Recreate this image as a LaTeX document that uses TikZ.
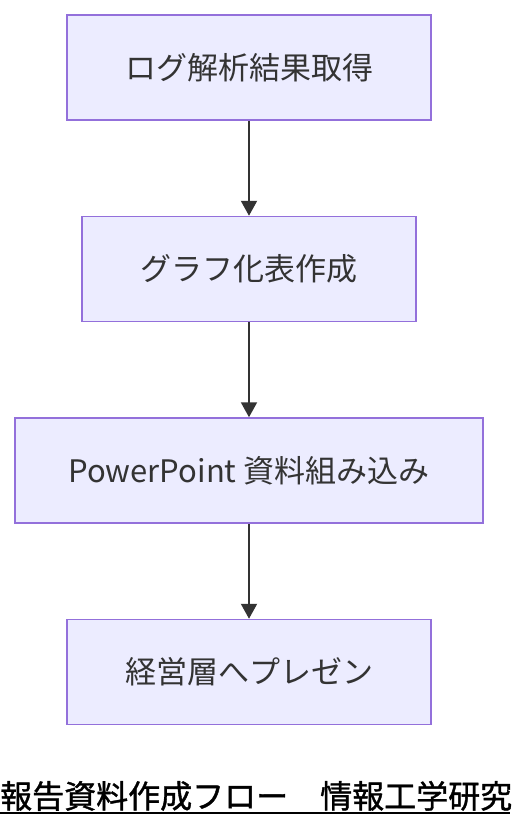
\documentclass[tikz,border=0pt]{standalone}
\usepackage{fontspec}
\setmainfont{Noto Sans CJK JP}
\newfontfamily\titlefont[FakeBold=1.2]{Noto Sans CJK JP}
\usetikzlibrary{positioning, arrows.meta}
\definecolor{boxfill}{HTML}{ECECFF}
\definecolor{boxline}{HTML}{9370DB}
\definecolor{ink}{HTML}{333333}

\begin{document}
\begin{tikzpicture}[x=1pt,y=-1pt,inner sep=0pt,node distance=95pt,>={Triangle[width=16pt,length=15pt]}]
\tikzset{stepbox/.style={draw=boxline,fill=boxfill,line width=1.5pt,minimum height=105pt,text=ink,font=\fontsize{31}{36}\selectfont},
         flow/.style={->,draw=ink,line width=2pt}}
\useasboundingbox (0,0) rectangle (514,828);
\node [stepbox,minimum width=364pt] at (249,67.5) (S1) {ログ解析結果取得};
\node [stepbox,minimum width=334pt] [below=of S1] (S2) {グラフ化表作成};
\node [stepbox,minimum width=468pt] [below=of S2] (S3) {PowerPoint 資料組み込み};
\node [stepbox,minimum width=364pt] [below=of S3] (S4) {経営層へプレゼン};
\draw [flow] (S1) -- (S2);
\draw [flow] (S2) -- (S3);
\draw [flow] (S3) -- (S4);
% title
\node [anchor=base west,font=\titlefont\fontsize{32}{38}\selectfont] at (0,808) (T) {報告資料作成フロー　情報工学研究};
\draw [line width=2pt] (0,813) -- (510,813);
\end{tikzpicture}
\end{document}
